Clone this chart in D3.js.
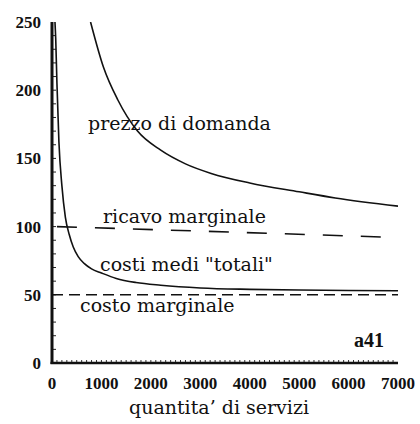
<!DOCTYPE html>
<html>
<head>
<meta charset="utf-8">
<script src="https://cdn.jsdelivr.net/npm/d3@7"></script>
<style>
  body { margin: 0; background: #fff; }
  text { fill: #111; }
</style>
</head>
<body>
<div id="chart"></div>
<script>
var width = 420,
    height = 424;

// valori
var xTicks = [0, 1000, 2000, 3000, 4000, 5000, 6000, 7000];
var yTicks = [0, 50, 100, 150, 200, 250];

var domandaQ = [780, 1040, 1330, 1730, 2200, 2700, 3220, 4000, 5000, 5730, 7000];
var domandaP = [250, 217, 193, 170, 156, 146, 139, 132, 125.5, 121, 115];

var ricavoQ = [100, 3600, 7000];
var ricavoP = [100, 96, 92];

var mediQ = [60, 75, 100, 140, 200, 270, 350, 430, 530, 650, 800, 1000, 1300, 1700, 2200, 3000, 4000, 5000, 6000, 7000];
var mediP = [250, 238, 205, 162, 130, 107, 94, 85, 78, 73, 69, 66, 62, 59, 57, 55, 54, 53.5, 53.2, 53];

var marginaleQ = [0, 7000];
var marginaleP = [50, 50];

var x = d3.scaleLinear().domain([0, 7000]).range([52, 398]);
var y = d3.scaleLinear().domain([0, 250]).range([363, 22]);

var svg = d3.select("#chart").append("svg")
    .attr("width", width)
    .attr("height", height)
    .style("font-family", "'DejaVu Serif', serif");

var line = d3.line()
    .x(d => x(d[0]))
    .y(d => y(d[1]))
    .curve(d3.curveMonotoneX);

function coppie(q, p) { return q.map((v, i) => [v, p[i]]); }

// tacche minori asse y (ogni 10)
svg.append("g").selectAll("line")
    .data(d3.range(10, 250, 10))
    .enter().append("line")
    .attr("x1", x(0)).attr("x2", x(0) + 4)
    .attr("y1", d => y(d)).attr("y2", d => y(d))
    .attr("stroke", "#222").attr("stroke-width", 1);

// tacche minori asse x (ogni 100)
svg.append("g").selectAll("line")
    .data(d3.range(100, 7000, 100))
    .enter().append("line")
    .attr("x1", d => x(d)).attr("x2", d => x(d))
    .attr("y1", y(0)).attr("y2", y(0) - 3)
    .attr("stroke", "#333").attr("stroke-width", 1);

// assi
svg.append("line")
    .attr("x1", x(0)).attr("x2", x(0))
    .attr("y1", y(250)).attr("y2", y(0) + 1)
    .attr("stroke", "#111").attr("stroke-width", 3);
svg.append("line")
    .attr("x1", x(0) - 1.5).attr("x2", x(7000))
    .attr("y1", y(0)).attr("y2", y(0))
    .attr("stroke", "#111").attr("stroke-width", 2.5);

// etichette assi
svg.append("g").selectAll("text")
    .data(yTicks)
    .enter().append("text")
    .attr("x", 41).attr("y", d => y(d) + 6)
    .attr("text-anchor", "end")
    .style("font-family", "'Liberation Serif', serif")
    .style("font-weight", "bold")
    .style("font-size", "17px")
    .text(d => d);

svg.append("g").selectAll("text")
    .data(xTicks)
    .enter().append("text")
    .attr("x", d => x(d)).attr("y", 389)
    .attr("text-anchor", "middle")
    .style("font-family", "'Liberation Serif', serif")
    .style("font-weight", "bold")
    .style("font-size", "17px")
    .text(d => d);

svg.append("text")
    .attr("x", 219).attr("y", 414)
    .attr("text-anchor", "middle")
    .style("font-size", "19px")
    .text("quantita\u2019 di servizi");

// curve
var clip = svg.append("clipPath").attr("id", "area")
    .append("rect").attr("x", x(0)).attr("y", y(250))
    .attr("width", x(7000) - x(0)).attr("height", y(0) - y(250));

var g = svg.append("g").attr("clip-path", "url(#area)");

g.append("path").datum(coppie(domandaQ, domandaP))
    .attr("d", line).attr("fill", "none")
    .attr("stroke", "#111").attr("stroke-width", 1.6);

g.append("path").datum(coppie(mediQ, mediP))
    .attr("d", line).attr("fill", "none")
    .attr("stroke", "#111").attr("stroke-width", 1.6);

g.append("path").datum(coppie(ricavoQ, ricavoP))
    .attr("d", line).attr("fill", "none")
    .attr("stroke", "#111").attr("stroke-width", 1.6)
    .attr("stroke-dasharray", "20,18");

g.append("path").datum(coppie(marginaleQ, marginaleP))
    .attr("d", line).attr("fill", "none")
    .attr("stroke", "#111").attr("stroke-width", 1.6)
    .attr("stroke-dasharray", "11,6");

// etichette delle curve
var etichette = [
  {t: "prezzo di domanda", x: 88, y: 130},
  {t: "ricavo marginale", x: 103, y: 223},
  {t: "costi medi \"totali\"", x: 100, y: 271},
  {t: "costo marginale", x: 80, y: 312}
];
svg.append("g").selectAll("text")
    .data(etichette)
    .enter().append("text")
    .attr("x", d => d.x).attr("y", d => d.y)
    .style("font-size", "19px")
    .text(d => d.t);

svg.append("text")
    .attr("x", 354).attr("y", 347)
    .style("font-family", "'Liberation Serif', serif")
    .style("font-weight", "bold")
    .style("font-size", "20px")
    .text("a41");
</script>
</body>
</html>
